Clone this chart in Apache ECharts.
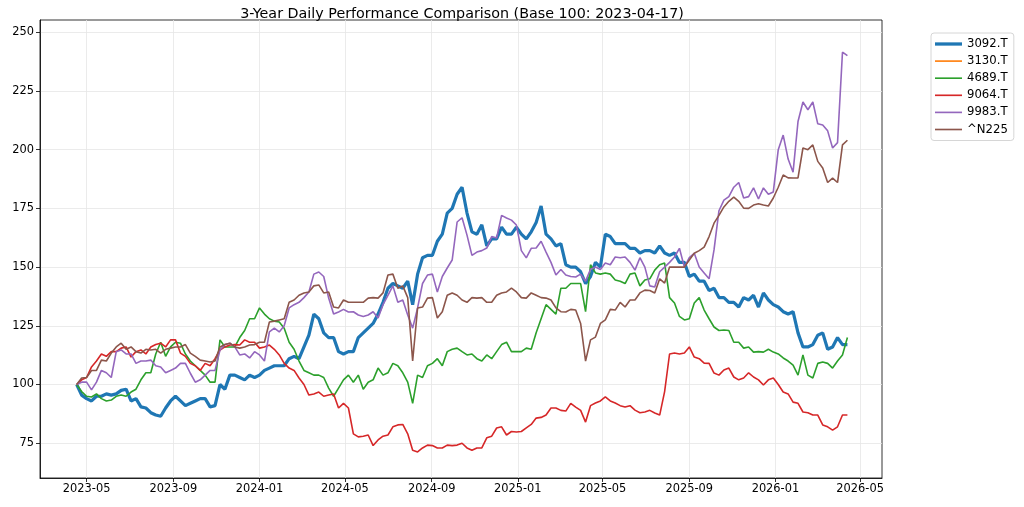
<!DOCTYPE html>
<html><head><meta charset="utf-8">
<script src="https://cdn.jsdelivr.net/npm/echarts@6/dist/echarts.min.js"></script>
<style>html,body{margin:0;padding:0;background:#fff}#c{width:1024px;height:507px}</style>
</head><body><div id="c"></div>
<script>
const dates = [
'2023-04-17','2023-04-24','2023-05-01','2023-05-08','2023-05-15','2023-05-22','2023-05-29','2023-06-05','2023-06-12','2023-06-19',
'2023-06-26','2023-07-03','2023-07-10','2023-07-17','2023-07-24','2023-07-31','2023-08-07','2023-08-14','2023-08-21','2023-08-28',
'2023-09-04','2023-09-11','2023-09-18','2023-09-25','2023-10-02','2023-10-09','2023-10-16','2023-10-23','2023-10-30','2023-11-06',
'2023-11-13','2023-11-20','2023-11-27','2023-12-04','2023-12-11','2023-12-18','2023-12-25',
'2024-01-01','2024-01-08','2024-01-15','2024-01-22','2024-01-29','2024-02-05','2024-02-12','2024-02-19','2024-02-26','2024-03-04',
'2024-03-11','2024-03-18','2024-03-25','2024-04-01','2024-04-08','2024-04-15','2024-04-22','2024-04-29','2024-05-06','2024-05-13',
'2024-05-20','2024-05-27','2024-06-03','2024-06-10','2024-06-17','2024-06-24','2024-07-01','2024-07-08','2024-07-15','2024-07-22',
'2024-07-29','2024-08-05','2024-08-12','2024-08-19','2024-08-26','2024-09-02','2024-09-09','2024-09-16','2024-09-23','2024-09-30',
'2024-10-07','2024-10-14','2024-10-21','2024-10-28','2024-11-04','2024-11-11','2024-11-18','2024-11-25','2024-12-02','2024-12-09',
'2024-12-16','2024-12-23','2024-12-30',
'2025-01-06','2025-01-13','2025-01-20','2025-01-27','2025-02-03','2025-02-10','2025-02-17','2025-02-24','2025-03-03','2025-03-10',
'2025-03-17','2025-03-24','2025-03-31','2025-04-07','2025-04-14','2025-04-21','2025-04-28','2025-05-05','2025-05-12','2025-05-19',
'2025-05-26','2025-06-02','2025-06-09','2025-06-16','2025-06-23','2025-06-30','2025-07-07','2025-07-14','2025-07-21','2025-07-28',
'2025-08-04','2025-08-11','2025-08-18','2025-08-25','2025-09-01','2025-09-08','2025-09-15','2025-09-22','2025-09-29','2025-10-06',
'2025-10-13','2025-10-20','2025-10-27','2025-11-03','2025-11-10','2025-11-17','2025-11-24','2025-12-01','2025-12-08','2025-12-15',
'2025-12-22','2025-12-29',
'2026-01-05','2026-01-12','2026-01-19','2026-01-26','2026-02-02','2026-02-09','2026-02-16','2026-02-23','2026-03-02','2026-03-09',
'2026-03-16','2026-03-23','2026-03-30','2026-04-06','2026-04-13'
];
const s3092 = [
100,95.5,94,93,95,95,96,95.5,96,97.5,98,93,94,90.5,90,88,87,86.5,90,93,
95,93,91,92,93,94,94,90.5,91,100,98,104,104,103,102,104,103,104,106,107,
108,108,108,111,112,111,116,121,130,128,122,120,120,114,113,114,114,120,122,124,
126,130,135,141,143,142,141,144,134,147,154,155,155,161,164,173,175,181,184,173,
165,164,168,159,162,162,167,164,164,167,164,162,165,169,176,164,162,159,160,151,
150,150,148,143,146,152,150,164,163,160,160,160,158,158,156,157,157,156,159,156,
155,156,152,152,146,147,144,144,140,141,137,137,135,135,133,137,136,138,133,139,
136,134,133,131,130,131,122,116,116,117,121,122,115,116,120,117,117
];
const s3130 = [];
const s4689 = [
100,97,95,94.7,96,94,93,93.4,95,95.5,95,96.8,98,102,105,105,113,118,112,116,
118,117.6,113,110,108,106,104,101,101,119,116,116,116,120,123,128,128,132.6,130,128,
127,126.6,124,118,115,110,106,105,104,104,103,98.5,95,98.5,102,104,101,104,98,101,
102,107,104,105,109,108,105,101,92,104,103,108,109,111,108,114,115,115.5,114,112.6,
113,111,110,112.6,111,114,117,118,114,114,114,115.5,115,122,128,134,132,130,141,141,
143,143,143,131,151,147.5,147,147.5,147,144.5,144,143,147,147.5,142,144.5,145,148.7,151,151.7,
137,134.7,129,127.5,128,134.7,137,131.7,128,124.5,123,123.2,123,118,118,115.5,116,113.8,114,113.8,
115,113.8,113,111.3,110,108.3,104,112.6,104,102.8,109,109.6,109,107,110,112.6,120
];
const s9064 = [
100,102,103,107.5,110,113,112,114,114,115.5,116,111.7,114,114.7,113,116,117,117.6,116,119,
119,113.4,112,109,108,106,109,108,111,114.7,116,116.8,117,116.8,119,118,118,115.5,116,116.8,
115,112.6,109,107,106,102.8,100,95.5,96,96.8,95,95.5,96,90,92,90,79,77.7,78,78.5,
74,76.4,78,78.5,82,82.8,83,79,72,71.3,73,74.2,74,73,73,74.2,74,74.2,75,73,
72,73,73,77.3,78,81.5,82,78.5,80,79.8,80,81.5,83,85.7,86,87,90,90,89,88.7,
92,90.4,89,84,91,92.1,93,94.7,93,92.1,91,90.4,91,89.1,88,88.3,89,87.9,87,97,
113,113.4,113,113.4,116,111.7,111,109.1,109,104.9,104,106.2,107,103.2,102,102.8,105,103.2,102,99.8,
102,102.8,100,96.8,96,92.5,92,88.3,88,87,87,82.8,82,80.6,82,87,87
];
const s9983 = [
100,101,101,97.7,101,106,105,103,114,114.7,113,113,109,110,110,110.4,108,107.5,105,106,
107,109,109,104.8,101,102,104,106,106,114.7,117,117.6,116,112.6,113,111.3,114,112.6,110,122.4,
124,122.4,125,132.6,134,135,137,139.4,147,147.9,146,136.8,130,130.9,132,130.9,131,129.6,129,129.6,
131,128.3,134,138,142,135,136,129.6,124,132.6,143,146.6,147,139.4,146,149.6,153,169.2,171,163.6,
155,156.4,157,158.1,163,162.4,172,170.9,170,167.9,157,153.9,158,158.1,161,156.4,152,146.6,149,146.6,
146,145.8,147,144,149,150,149,151.7,151,154.3,154,154.3,152,148.7,154,150,142,141.5,148,150,
152,154.3,158,150,154,155.9,150,147.5,145,157.3,174,178.5,180,184,186,179.4,180,183.7,179,183.7,
181,182,200,206.2,196,190.4,212,220.3,217,220.3,211,210.5,208,200.7,203,241.5,240
];
const sN225 = [
100,102.8,103,106,106,110.4,110,113.4,116,117.6,115,116,114,113.4,115,114.7,115,113.4,115,115.5,
116,116,117,113.4,112,110.4,110,109.6,110,116,117,117.6,116,115.5,116,116.8,117,118,118,126.6,
127,127.5,128,135,136,138,139,139.4,142,142.4,139,139.4,133,132.6,136,135,135,135,135,136.8,
137,136.8,139,146.6,147,141,142,137,110,132.6,133,136.8,137,128.3,131,138,139,138,136,135,
137,136.8,137,135,135,138,139,139.4,141,139.4,137,136.8,139,138,137,136.8,136,132.6,131,130.9,
132,131.7,126,110,119,120.2,126,127.5,132,131.7,135,133,136,136,139,140.2,140,139,145,143.2,
150,150,150,150,153,155.9,157,158.5,163,168.7,172,175.6,178,179.8,178,175.1,175,176.4,177,176.4,
176,179.4,184,189.2,188,187.9,188,200.7,200,202,195,192.2,186,187.9,186,202,204
];
const seriesNames = ['3092.T','3130.T','4689.T','9064.T','9983.T','^N225'];
const xTicks = ['2023-05-01','2023-09-01','2024-01-01','2024-05-01','2024-09-01','2025-01-01','2025-05-01','2025-09-01','2026-01-01','2026-05-01'];
const yTicks = [75,100,125,150,175,200,225,250];

function ts(d){const p=d.split('-');return Date.UTC(+p[0],+p[1]-1,+p[2]);}
function pairs(vals){return vals.map((v,i)=>[ts(dates[i]),v]);}
function fmt(v){const d=new Date(v);return d.getUTCFullYear()+'-'+String(d.getUTCMonth()+1).padStart(2,'0');}

const colors = ['#1f77b4','#ff7f0e','#2ca02c','#d62728','#9467bd','#8c564b'];
const seriesVals = [s3092,s3130,s4689,s9064,s9983,sN225];
const widths = [3.2,1.6,1.6,1.6,1.6,1.6];
const FONT = 'DejaVu Sans';

const chart = echarts.init(document.getElementById('c'), null, {renderer:'canvas'});
chart.setOption({
  animation:false,
  backgroundColor:'#fff',
  textStyle:{fontFamily:FONT},
  title:{text:'3-Year Daily Performance Comparison (Base 100: 2023-04-17)', left:457, top:2, textAlign:'center',
    textStyle:{fontFamily:FONT,fontSize:14.3,fontWeight:'normal',color:'#000'}},
  grid:{left:40,right:142,top:20,bottom:29,show:true,borderColor:'#000',borderWidth:0.8,backgroundColor:'transparent'},
  legend:{orient:'vertical',left:931,top:33,itemWidth:27,itemHeight:12,itemGap:5.1,
    padding:[5,6,5,4],borderColor:'#d6d6d6',borderWidth:1,borderRadius:3,backgroundColor:'#fff',
    textStyle:{fontFamily:FONT,fontSize:11.7,color:'#000'},
    data:seriesNames.map((n,i)=>({name:n,icon:i===0?'path://M0,0h18v2.2h-18z':'path://M0,0h18v1.1h-18z'}))
  },
  xAxis:{type:'value',min:ts('2023-02-24'),max:ts('2026-06-01'),
    axisLine:{show:true,lineStyle:{color:'#000',width:0.8}},
    axisTick:{show:true,length:4,lineStyle:{color:'#000',width:0.8},customValues:xTicks.map(ts)},
    axisLabel:{customValues:xTicks.map(ts),formatter:fmt,color:'#000',fontFamily:FONT,fontSize:11.4,margin:6},
    splitLine:{show:true,lineStyle:{color:'#e6e6e6',width:0.8}}
  },
  yAxis:{type:'value',min:60.2,max:255.2,
    axisLine:{show:true,lineStyle:{color:'#000',width:0.8}},
    axisTick:{show:true,length:4,lineStyle:{color:'#000',width:0.8},customValues:yTicks},
    axisLabel:{customValues:yTicks,color:'#000',fontFamily:FONT,fontSize:11.4,margin:6},
    splitLine:{show:true,lineStyle:{color:'#e6e6e6',width:0.8}}
  },
  series:seriesNames.map((n,i)=>({name:n,type:'line',data:pairs(seriesVals[i]),symbol:'none',showSymbol:false,
    lineStyle:{color:colors[i],width:widths[i]},itemStyle:{color:colors[i]},z:2+i}))
});
</script></body></html>
